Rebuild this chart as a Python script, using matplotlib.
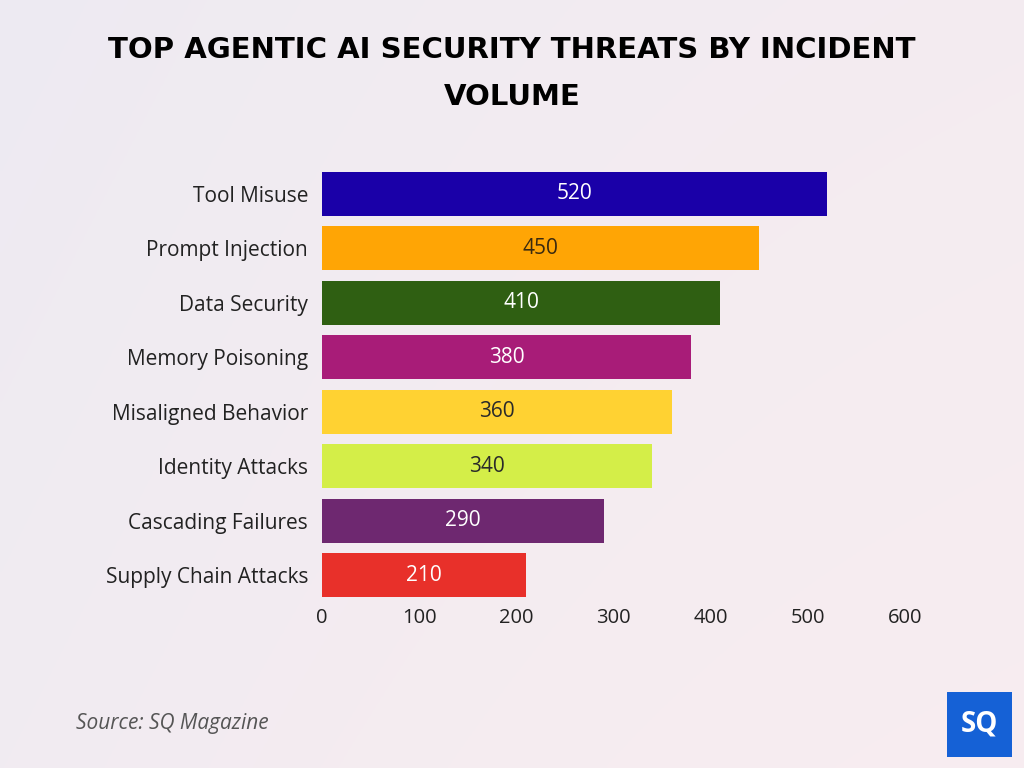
import numpy as np
from matplotlib import pyplot as plt
from matplotlib.patches import FancyBboxPatch

categories = ["Tool Misuse", "Prompt Injection", "Data Security", "Memory Poisoning",
              "Misaligned Behavior", "Identity Attacks", "Cascading Failures",
              "Supply Chain Attacks"]
incidents = [520, 450, 410, 380, 360, 340, 290, 210]
bar_colors = ["#1a00a8", "#ffa505", "#2f5f12", "#a81c78", "#ffd232", "#d4ee48",
              "#6e2870", "#e8302a"]
label_colors = ["white", "#3a2a10", "white", "white", "#2a2a2a", "#2a2a2a", "white", "white"]
x_ticks = [0, 100, 200, 300, 400, 500, 600]

plt.rcParams['font.family'] = ['Open Sans', 'DejaVu Sans']

fig = plt.figure(figsize=(10.24, 7.68), dpi=100)

# soft background gradient
bg = fig.add_axes([0, 0, 1, 1], zorder=-10)
gx = np.linspace(0, 1, 256)
gy = np.linspace(0, 1, 256)
X, Y = np.meshgrid(gx, gy)
c1 = np.array([0.93, 0.92, 0.95])
c2 = np.array([0.98, 0.93, 0.94])
t = np.clip(0.5 * X + 0.3 * (1 - Y) + 0.1 * np.sin(3 * X), 0, 1)[..., None]
img = c1 * (1 - t) + c2 * t
bg.imshow(img, extent=[0, 1, 0, 1], aspect='auto', origin='lower')
bg.axis('off')

ax = fig.add_axes([322 / 1024, 1 - 605 / 768, 583 / 1024, 441 / 768])
ax.patch.set_alpha(0)

y = np.arange(len(categories))
bars = ax.barh(y, incidents, height=0.81, color=bar_colors)
ax.set_ylim(len(categories) - 0.45, -0.55)
ax.set_xlim(0, 600)

for i, v in enumerate(incidents):
    ax.text(v / 2, i, str(v), ha='center', va='center', fontsize=15,
            color=label_colors[i])

ax.set_yticks(y)
ax.set_yticklabels(categories, fontsize=15, color='#222222')
ax.set_xticks(x_ticks)
ax.set_xticklabels([str(v) for v in x_ticks], fontsize=14.5, color='#222222')
ax.tick_params(length=0, pad=10, axis='y')
ax.tick_params(length=0, pad=2, axis='x')
for s in ax.spines.values():
    s.set_visible(False)

fig.text(0.5, 1 - 50 / 768, "TOP AGENTIC AI SECURITY THREATS BY INCIDENT", ha='center',
         va='center', fontsize=21, fontweight='heavy', color='black',
         family=['DejaVu Sans'])
fig.text(0.5, 1 - 97 / 768, "VOLUME", ha='center', va='center', fontsize=21,
         fontweight='heavy', color='black', family=['DejaVu Sans'])

fig.text(76 / 1024, 1 - 724 / 768, "Source: SQ Magazine", ha='left', va='center',
         fontsize=15, style='italic', color='#555555')

# logo
logo = fig.add_axes([947 / 1024, 1 - 757 / 768, 65 / 1024, 65 / 768])
logo.add_patch(FancyBboxPatch((0, 0), 1, 1, boxstyle="square,pad=0", color='#1561d6'))
logo.text(0.5, 0.5, "SQ", ha='center', va='center', fontsize=20, fontweight='bold',
          color='white')
logo.set_xlim(0, 1)
logo.set_ylim(0, 1)
logo.axis('off')

plt.savefig('out.png', dpi=100)
